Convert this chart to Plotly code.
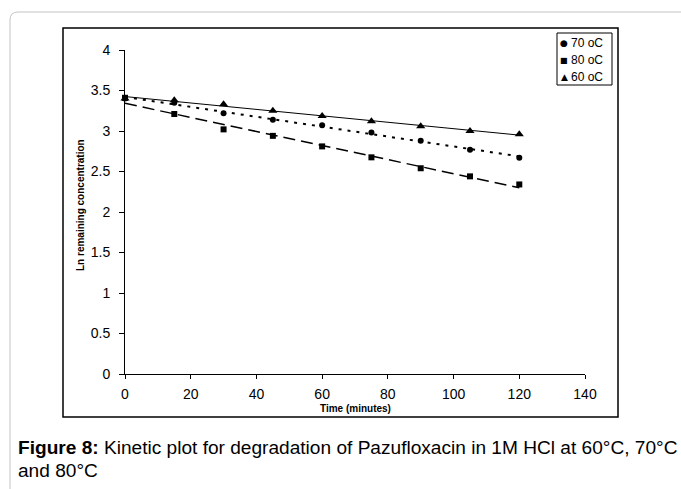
import numpy as np
import plotly.graph_objects as go

# ---- data ----
time_min = [0, 15, 30, 45, 60, 75, 90, 105, 120]
ln_70 = [3.40, 3.35, 3.22, 3.14, 3.07, 2.98, 2.88, 2.77, 2.67]
ln_80 = [3.41, 3.21, 3.02, 2.94, 2.81, 2.675, 2.54, 2.44, 2.34]
ln_60 = [3.40, 3.38, 3.33, 3.25, 3.185, 3.12, 3.06, 3.00, 2.96]
series_names = ["70 oC", "80 oC", "60 oC"]
legend_symbols = ["●", "■", "▲"]
x_ticks = [0, 20, 40, 60, 80, 100, 120, 140]
y_ticks = [0, 0.5, 1, 1.5, 2, 2.5, 3, 3.5, 4]
y_tick_text = ["0", "0.5", "1", "1.5", "2", "2.5", "3", "3.5", "4"]

W, H = 681, 489
L, R, T, B = 125, 585, 50, 374  # plot area in pixels
pw, ph = R - L, B - T

def px(x):
    return (x - L) / pw

def py(y):
    return (B - y) / ph

FONT = "Liberation Sans, Arial, sans-serif"

fig = go.Figure()

styles = [
    (ln_70, series_names[0], "circle", 6, dict(color="black", width=2, dash="3px,6px")),
    (ln_80, series_names[1], "square", 6, dict(color="black", width=1.5, dash="12px,6px")),
    (ln_60, series_names[2], "triangle-up", 8, dict(color="black", width=1)),
]

# trendlines (least squares fit, as in the original)
for vals, name, sym, sz, ln in styles:
    k, b0 = np.polyfit(time_min, vals, 1)
    xs = [time_min[0], time_min[-1]]
    fig.add_trace(go.Scatter(x=xs, y=[b0 + k * v for v in xs], mode="lines",
                             line=ln, showlegend=False, hoverinfo="skip",
                             cliponaxis=False))

for vals, name, sym, sz, ln in styles:
    fig.add_trace(go.Scatter(x=time_min, y=vals, mode="markers", name=name,
                             marker=dict(symbol=sym, size=sz, color="black"),
                             showlegend=False, cliponaxis=False))

axis_common = dict(showgrid=False, zeroline=False, showline=True, linecolor="black",
                   linewidth=1, ticks="outside", tickcolor="black",
                   tickfont=dict(family=FONT, size=14, color="black"))

fig.update_xaxes(range=[0, 140], tickvals=x_ticks, ticktext=[str(v) for v in x_ticks],
                 ticklen=4, ticklabelstandoff=3, **axis_common)
fig.update_yaxes(range=[0, 4], tickvals=y_ticks, ticktext=y_tick_text,
                 ticklen=5, ticklabelstandoff=6, **axis_common)

# axis titles and caption
annotations = [
    dict(text="<b>Time (minutes)</b>", x=px(355), y=py(408), xref="paper", yref="paper",
         showarrow=False, font=dict(family=FONT, size=10, color="black"),
         xanchor="center", yanchor="middle"),
    dict(text="<b>Ln remaining concentration</b>", x=px(80), y=py(205), xref="paper",
         yref="paper", showarrow=False, textangle=-90,
         font=dict(family=FONT, size=10, color="black"), xanchor="center", yanchor="middle"),
    dict(text="<b>Figure 8:</b> Kinetic plot for degradation of Pazufloxacin in 1M HCl at 60°C, 70°C",
         x=px(16), y=py(448), xref="paper", yref="paper", showarrow=False,
         font=dict(family=FONT, size=19.1, color="black"), xanchor="left", yanchor="middle"),
    dict(text="and 80°C", x=px(16), y=py(470), xref="paper", yref="paper", showarrow=False,
         font=dict(family=FONT, size=19.1, color="black"), xanchor="left", yanchor="middle"),
]

# custom legend (compact, as in the original)
for i, (sym, name) in enumerate(zip(legend_symbols, series_names)):
    yy = 43 + i * 17
    annotations.append(dict(text=sym, x=px(564), y=py(yy), xref="paper", yref="paper",
                            showarrow=False, xanchor="center", yanchor="middle",
                            font=dict(family="DejaVu Sans", size=9 if i != 1 else 8,
                                      color="black")))
    annotations.append(dict(text=name, x=px(569), y=py(yy), xref="paper", yref="paper",
                            showarrow=False, xanchor="left", yanchor="middle",
                            font=dict(family=FONT, size=12, color="black")))

# frames
r = 8
outer = (f"M {px(10)},{py(489)} L {px(10)},{py(12 + r)} "
         f"Q {px(10)},{py(12)} {px(10 + r)},{py(12)} L {px(681)},{py(12)}")
shapes = [
    dict(type="path", path=outer, xref="paper", yref="paper",
         line=dict(color="#c4c4c4", width=1)),
    dict(type="rect", x0=px(63), x1=px(618), y0=py(417), y1=py(28), xref="paper",
         yref="paper", line=dict(color="black", width=1.5), layer="below"),
    dict(type="rect", x0=px(557), x1=px(612), y0=py(85), y1=py(33), xref="paper",
         yref="paper", line=dict(color="black", width=1), fillcolor="white"),
]

fig.update_layout(
    width=W, height=H,
    margin=dict(l=L, r=W - R, t=T, b=H - B, pad=0),
    paper_bgcolor="white", plot_bgcolor="white",
    font=dict(family=FONT, color="black"),
    showlegend=False,
    annotations=annotations,
    shapes=shapes,
)

fig.write_html("out.html")
